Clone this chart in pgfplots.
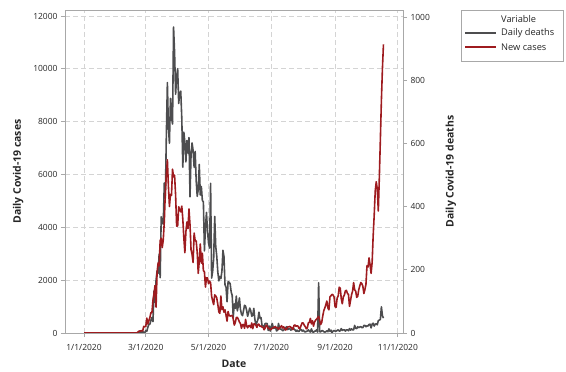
\documentclass[border=0pt]{standalone}
\usepackage{pgfplots}
\usepackage{pgfplotstable}
\pgfplotsset{compat=1.18}
\usepackage{fontspec}
\setmainfont{Open Sans}
\definecolor{deathc}{HTML}{4D4D4F}
\definecolor{casec}{HTML}{9E1B1F}
\definecolor{axc}{HTML}{A8A8A8}
\definecolor{gridc}{HTML}{D4D4D4}

% day 0 = 1/1/2020
\pgfplotstableread{
day val
0 0
51 0
52 20
53 62
54 76
55 73
56 93
57 78
58 250
59 238
60 240
61 566
62 342
63 466
64 587
65 769
66 778
67 1247
68 1492
69 1797
70 977
71 2313
72 2651
73 2547
74 3497
75 3590
76 3233
77 3526
78 4207
79 5322
80 5986
81 6557
82 5560
83 4789
84 5249
85 5210
86 6203
87 5909
88 5974
89 5217
90 4050
91 4053
92 4782
93 4668
94 4585
95 4805
96 4316
97 3599
98 3039
99 3836
100 4204
101 3951
102 4694
103 4092
104 3153
105 2972
106 2667
107 3786
108 3493
109 3491
110 3047
111 2256
112 2729
113 3370
114 2646
115 3021
116 2357
117 2324
118 1739
119 2091
120 2086
121 1872
122 1965
123 1900
124 1389
125 1221
126 1075
127 1444
128 1401
129 1327
130 1083
131 802
132 744
133 1402
134 888
135 992
136 789
137 875
138 675
139 451
140 813
141 665
142 642
143 652
144 669
145 531
146 300
147 397
148 584
149 593
150 516
151 416
152 355
153 178
154 318
155 321
156 177
157 518
158 270
159 197
160 280
161 283
162 202
163 379
164 163
165 346
166 338
167 301
168 210
169 329
170 333
171 251
172 262
173 224
174 218
175 122
176 190
177 296
178 259
179 175
180 174
181 126
182 142
183 187
184 201
185 223
186 235
187 192
188 208
189 138
190 193
191 229
192 276
193 188
194 234
195 169
196 114
197 162
198 230
199 233
200 249
201 219
202 190
203 129
204 282
205 306
206 252
207 275
208 255
209 170
210 181
211 289
212 386
213 379
214 295
215 239
216 159
217 190
218 384
219 402
220 552
221 347
222 463
223 259
224 412
225 481
226 523
227 574
228 629
229 479
230 320
231 403
232 642
233 845
234 947
235 1071
236 1210
237 953
238 878
239 1367
240 1411
241 1462
242 1444
243 1365
244 996
245 978
246 1326
247 1397
248 1733
249 1695
250 1297
251 1108
252 1370
253 1434
254 1597
255 1616
256 1501
257 1458
258 1008
259 1229
260 1452
261 1585
262 1907
263 1638
264 1587
265 1350
266 1392
267 1640
268 1786
269 1912
270 1869
271 1766
272 1494
273 1648
274 1851
275 2548
276 2499
277 2844
278 2578
279 2257
280 2677
281 3678
282 4458
283 5372
284 5724
285 5456
286 4619
287 5901
288 7332
289 8804
290 10010
291 10925
}\casesdata

\pgfplotstableread{
day val
0 0
51 0
52 1
53 1
54 1
55 4
56 1
57 5
58 2
59 0
60 8
61 5
62 18
63 27
64 28
65 41
66 49
67 36
68 133
69 97
70 168
71 196
72 189
73 250
74 175
75 368
76 349
77 345
78 475
79 427
80 627
81 793
82 651
83 601
84 743
85 683
86 662
87 969
88 889
89 756
90 812
91 837
92 727
93 760
94 766
95 681
96 525
97 636
98 604
99 542
100 610
101 570
102 619
103 431
104 566
105 602
106 578
107 525
108 575
109 482
110 433
111 454
112 534
113 437
114 464
115 420
116 415
117 260
118 333
119 382
120 323
121 285
122 269
123 474
124 174
125 195
126 236
127 369
128 274
129 243
130 194
131 165
132 179
133 172
134 195
135 262
136 242
137 153
138 145
139 99
140 162
141 161
142 156
143 130
144 119
145 50
146 92
147 78
148 117
149 70
150 87
151 111
152 75
153 60
154 55
155 71
156 88
157 85
158 72
159 53
160 65
161 79
162 71
163 53
164 56
165 78
166 44
167 26
168 34
169 43
170 66
171 47
172 49
173 24
174 23
175 18
176 30
177 30
178 30
179 8
180 22
181 6
182 21
183 30
184 15
185 15
186 21
187 7
188 8
189 30
190 15
191 12
192 12
193 7
194 9
195 13
196 17
197 20
198 11
199 13
200 14
201 9
202 12
203 15
204 13
205 10
206 5
207 9
208 5
209 5
210 11
211 11
212 6
213 9
214 5
215 3
216 5
217 6
218 10
219 6
220 3
221 13
222 4
223 2
224 6
225 6
226 10
227 3
228 159
229 4
230 4
231 7
232 7
233 4
234 3
235 4
236 7
237 4
238 13
239 5
240 9
241 1
242 6
243 8
244 6
245 6
246 8
247 10
248 6
249 7
250 14
251 8
252 10
253 10
254 6
255 10
256 10
257 7
258 14
259 9
260 13
261 10
262 10
263 24
264 15
265 14
266 20
267 17
268 19
269 20
270 17
271 17
272 24
273 24
274 20
275 23
276 22
277 27
278 28
279 16
280 28
281 31
282 22
283 28
284 29
285 26
286 39
287 41
288 43
289 83
290 55
291 47
}\deathsdata

\begin{document}
\begin{tikzpicture}
\pgfplotsset{set layers}
\pgfplotsset{every axis/.append style={
  scale only axis, width=338bp, height=323bp,
  xmin=-18.5, xmax=310,
  axis line style={axc, line width=0.9pt},
  tick style={axc, line width=0.9pt},
  tick align=outside, major tick length=4bp,
  tick label style={font=\fontsize{8.5}{10}\selectfont, text=black!85},
  /pgf/number format/assume math mode=true,
  /pgf/number format/1000 sep={},
  scaled y ticks=false,
  label style={font=\fontsize{10.5}{12}\selectfont\bfseries, text=black!85},
}}
% deaths (right axis)
\begin{axis}[
  axis y line*=right, hide x axis,
  ymin=0, ymax=1023,
  ytick={0,200,400,600,800,1000},
  ylabel={Daily Covid-19 deaths},
  ylabel shift=9bp,
]
\addplot[deathc, line width=1.6pt, line join=round] table[x=day,y=val]{\deathsdata};
\end{axis}
% cases (left axis)
\begin{axis}[
  ymin=0, ymax=12230,
  ytick={0,2000,4000,6000,8000,10000,12000},
  ytick pos=left, xtick pos=bottom,
  xtick={0,60,121,182,244,305},
  xticklabels={1/1/2020,3/1/2020,5/1/2020,7/1/2020,9/1/2020,11/1/2020},
  xticklabel style={yshift=-4bp},
  grid=major,
  major grid style={gridc, dash pattern=on 5bp off 3bp, line width=0.8pt},
  xlabel={Date},
  xlabel shift=2bp,
  ylabel={Daily Covid-19 cases},
  ylabel shift=3bp,
]
\addplot[casec, line width=1.6pt, line join=round] table[x=day,y=val]{\casesdata};
\end{axis}
% legend
\draw[axc, line width=0.7pt] (396bp,272bp) rectangle (498bp,323bp);
\begin{scope}[every node/.style={anchor=west, inner sep=0pt, font=\fontsize{9.3}{11}\selectfont, text=black!85}]
\node at (436bp,314bp) {Variable};
\node at (436bp,300bp) {Daily deaths};
\node at (436bp,286bp) {New cases};
\end{scope}
\draw[deathc, line width=1.8pt] (400bp,300bp) -- (431bp,300bp);
\draw[casec, line width=1.8pt] (400bp,286bp) -- (431bp,286bp);
\pgfresetboundingbox
\path[use as bounding box] (-65bp,-39bp) rectangle (501bp,333bp);
\end{tikzpicture}
\end{document}
